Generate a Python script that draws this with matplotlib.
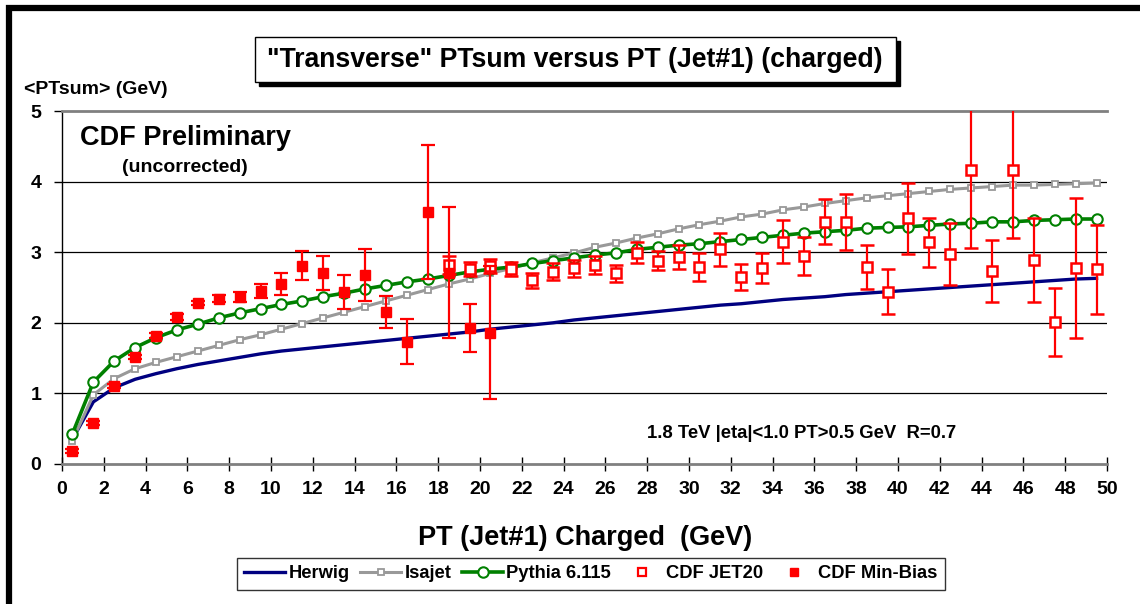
import matplotlib
matplotlib.use('Agg')
import matplotlib.pyplot as plt
from matplotlib.patches import Rectangle
from matplotlib.lines import Line2D

plt.rcParams['font.family'] = ['Liberation Sans', 'DejaVu Sans']
plt.rcParams['font.weight'] = 'bold'

# PT (Jet#1) bin centres
pt = [i + 0.5 for i in range(50)]

herwig = [0.35, 0.88, 1.08, 1.20, 1.28, 1.35, 1.41, 1.46, 1.51, 1.56,
          1.60, 1.63, 1.66, 1.69, 1.72, 1.75, 1.78, 1.81, 1.84, 1.87,
          1.91, 1.94, 1.97, 2.00, 2.04, 2.07, 2.10, 2.13, 2.16, 2.19,
          2.22, 2.25, 2.27, 2.30, 2.33, 2.35, 2.37, 2.40, 2.42, 2.44,
          2.46, 2.48, 2.50, 2.52, 2.54, 2.56, 2.58, 2.60, 2.62, 2.63]
isajet = [0.33, 0.98, 1.21, 1.35, 1.44, 1.52, 1.60, 1.68, 1.76, 1.83,
          1.91, 1.99, 2.07, 2.15, 2.23, 2.31, 2.39, 2.47, 2.55, 2.62,
          2.70, 2.77, 2.85, 2.92, 2.99, 3.07, 3.13, 3.20, 3.26, 3.33,
          3.39, 3.44, 3.50, 3.54, 3.60, 3.64, 3.69, 3.73, 3.77, 3.80,
          3.83, 3.86, 3.89, 3.91, 3.93, 3.95, 3.95, 3.96, 3.97, 3.98]
pythia = [0.43, 1.16, 1.46, 1.65, 1.79, 1.90, 1.98, 2.07, 2.14, 2.20,
          2.26, 2.31, 2.37, 2.42, 2.48, 2.53, 2.58, 2.62, 2.67, 2.72,
          2.76, 2.79, 2.84, 2.88, 2.92, 2.96, 2.99, 3.04, 3.07, 3.10,
          3.12, 3.15, 3.18, 3.21, 3.24, 3.27, 3.29, 3.31, 3.34, 3.35,
          3.36, 3.38, 3.40, 3.41, 3.43, 3.43, 3.45, 3.46, 3.47, 3.47]

jet20_pt = pt[18:]
jet20 = [2.82, 2.76, 2.80, 2.76, 2.60, 2.72, 2.77, 2.82, 2.70, 2.99,
         2.88, 2.93, 2.79, 3.04, 2.65, 2.78, 3.15, 2.95, 3.43, 3.43,
         2.79, 2.44, 3.48, 3.14, 2.97, 4.16, 2.73, 4.16, 2.89, 2.01,
         2.78, 2.76]
jet20_err = [0.13, 0.10, 0.10, 0.10, 0.10, 0.12, 0.12, 0.13, 0.12, 0.15,
             0.13, 0.17, 0.20, 0.23, 0.18, 0.21, 0.31, 0.27, 0.32, 0.40,
             0.31, 0.32, 0.50, 0.35, 0.44, 1.10, 0.44, 0.96, 0.59, 0.48,
             0.99, 0.63]

minbias_pt = pt[:21]
minbias = [0.18, 0.58, 1.10, 1.52, 1.82, 2.08, 2.28, 2.34, 2.37, 2.45,
           2.55, 2.81, 2.71, 2.43, 2.68, 2.15, 1.73, 3.57, 2.71, 1.93, 1.86]
minbias_err = [0.03, 0.03, 0.03, 0.03, 0.03, 0.04, 0.03, 0.05, 0.07, 0.10,
               0.15, 0.21, 0.24, 0.24, 0.37, 0.23, 0.32, 0.95, 0.93, 0.34, 0.94]

W, H = 1140, 604
def fx(p): return p / W
def fy(p): return 1 - p / H

fig = plt.figure(figsize=(11.4, 6.04), dpi=100)
ax = fig.add_axes([fx(62), fy(464), fx(1107) - fx(62), fy(111) - fy(464)])

for g in [1, 2, 3, 4]:
    ax.axhline(g, color='black', lw=0.9, zorder=1)

ax.plot(pt, herwig, color='#000080', lw=2.4, zorder=3)
ax.plot(pt, isajet, color='#999999', lw=2.2, marker='s', ms=4.2,
        mfc='white', mec='#999999', mew=1.3, zorder=3)
ax.plot(pt, pythia, color='#008000', lw=2.6, marker='o', ms=7.5,
        mfc='white', mec='#008000', mew=1.5, zorder=4)
ax.errorbar(jet20_pt, jet20, yerr=jet20_err, fmt='s', ms=7.5, mfc='white',
            mec='red', mew=1.8, ecolor='red', elinewidth=1.6, capsize=5,
            capthick=1.6, zorder=5)
ax.errorbar(minbias_pt, minbias, yerr=minbias_err, fmt='s', ms=7.5, mfc='red',
            mec='red', ecolor='red', elinewidth=1.6, capsize=5,
            capthick=1.6, zorder=6)

ax.set_xlim(0, 50)
ax.set_ylim(0, 5)
ax.set_xticks(range(0, 51, 2))
ax.set_yticks(range(0, 6))
ax.tick_params(axis='x', direction='inout', length=10, width=1, color='black',
               labelsize=14, pad=7)
ax.tick_params(axis='y', direction='out', length=6, width=1, color='black',
               labelsize=14, pad=9)
for lab in ax.get_xticklabels() + ax.get_yticklabels():
    lab.set_fontweight('bold')

ax.spines['right'].set_visible(False)
ax.spines['top'].set_color('#808080')
ax.spines['top'].set_linewidth(2)
ax.spines['bottom'].set_color('#808080')
ax.spines['bottom'].set_linewidth(2)
ax.spines['left'].set_color('black')
ax.spines['left'].set_linewidth(1)

ax.text(fx(80), fy(138), 'CDF Preliminary', transform=fig.transFigure,
        fontsize=19.5, fontweight='bold', va='center', ha='left')
ax.text(fx(185), fy(167), '(uncorrected)', transform=fig.transFigure,
        fontsize=14, fontweight='bold', va='center', ha='center')
ax.text(fx(802), fy(433), '1.8 TeV |eta|<1.0 PT>0.5 GeV  R=0.7',
        transform=fig.transFigure, fontsize=13.3, fontweight='bold',
        va='center', ha='center')

fig.text(fx(96), fy(90), '<PTsum> (GeV)', fontsize=14, fontweight='bold',
         ha='center', va='center')
fig.text(fx(585), fy(538), 'PT (Jet#1) Charged  (GeV)', fontsize=19.5,
         fontweight='bold', ha='center', va='center')

# title box with shadow
fig.patches.append(Rectangle((fx(259), fy(86)), fx(900) - fx(259), fy(41) - fy(86),
                             transform=fig.transFigure, facecolor='black',
                             edgecolor='black', zorder=1))
fig.patches.append(Rectangle((fx(255), fy(82)), fx(896) - fx(255), fy(37) - fy(82),
                             transform=fig.transFigure, facecolor='white',
                             edgecolor='black', lw=1, zorder=2))
fig.text(fx(575), fy(60), '"Transverse" PTsum versus PT (Jet#1) (charged)',
         fontsize=19.2, fontweight='bold', ha='center', va='center', zorder=3)

# outer slide frame
fig.patches.append(Rectangle((fx(9), fy(700)), fx(1300), fy(8) - fy(700),
                             transform=fig.transFigure, facecolor='none',
                             edgecolor='black', lw=4.5, zorder=0))

handles = [
    Line2D([], [], color='#000080', lw=2.4),
    Line2D([], [], color='#999999', lw=2.2, marker='s', ms=4.2,
           mfc='white', mec='#999999', mew=1.3),
    Line2D([], [], color='#008000', lw=2.6, marker='o', ms=7.5,
           mfc='white', mec='#008000', mew=1.5),
    Line2D([], [], ls='none', marker='s', ms=6, mfc='white', mec='red', mew=1.6),
    Line2D([], [], ls='none', marker='s', ms=6, mfc='red', mec='red'),
]
labels = ['Herwig', 'Isajet', 'Pythia 6.115', 'CDF JET20', 'CDF Min-Bias']
leg = fig.legend(handles, labels, loc='center', bbox_to_anchor=(fx(591), fy(574)),
                 ncol=5, frameon=True, fancybox=False, edgecolor='black',
                 prop={'weight': 'bold', 'size': 13.2}, handlelength=2.2,
                 handletextpad=0.2, columnspacing=0.6, borderpad=0.4,
                 borderaxespad=0)
leg.get_frame().set_linewidth(1)

fig.savefig('out.png', dpi=100)
